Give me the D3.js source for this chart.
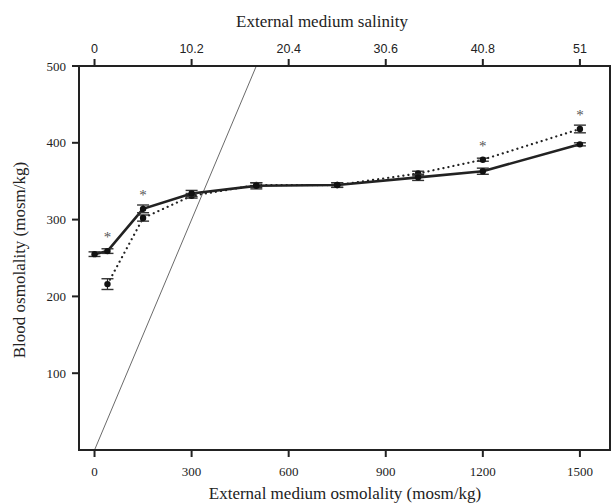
<!DOCTYPE html>
<html lang="en">
<head>
  <meta charset="UTF-8">
  <title>Blood osmolality vs external medium</title>
  <style>
    body { margin: 0; padding: 0; background: #fff; }
  </style>
</head>
<body>
<div id="chart"></div>

<script src="https://d3js.org/d3.v7.min.js"></script>
<script>
  // Data
  const osm = [0, 40, 150, 300, 500, 750, 1000, 1200, 1500];
  const solidMean = [255, 259, 314, 334, 344, 345, 355, 363, 398];
  const solidErr = [3, 3, 5, 4, 4, 3, 4, 4, 2];

  const dottedOsm = [40, 150, 300, 500, 750, 1000, 1200, 1500];
  const dottedMean = [216, 302, 331, 345, 345, 360, 378, 418];
  const dottedErr = [7, 4, 3, 3, 3, 3, 2, 5];

  const starOsm = [40, 150, 1200, 1500];

  const isoLine = [[0, 0], [500, 500]];

  const bottomTicks = [0, 300, 600, 900, 1200, 1500];
  const topTicks = [0, 10.2, 20.4, 30.6, 40.8, 51];
  const leftTicks = [100, 200, 300, 400, 500];

  const SERIF = "'Liberation Serif', 'Times New Roman', Times, serif";
  const SANS = "'Liberation Sans', Arial, Helvetica, sans-serif";
  const ink = "#222";

  const width = 611, height = 503;
  const svg = d3.select("#chart").append("svg")
    .attr("width", width)
    .attr("height", height);

  const x = d3.scaleLinear().domain([-48, 1593]).range([79, 610]);
  const y = d3.scaleLinear().domain([0, 500]).range([450, 66]);
  const xs = d3.scaleLinear().domain([-48 * 51 / 1500, 1593 * 51 / 1500]).range([79, 610]);

  // isosmotic line
  svg.append("line")
    .attr("x1", x(isoLine[0][0])).attr("y1", y(isoLine[0][1]))
    .attr("x2", x(isoLine[1][0])).attr("y2", y(isoLine[1][1]))
    .attr("stroke", "#444").attr("stroke-width", 0.8);

  const solid = osm.map((d, i) => ({ x: d, y: solidMean[i], e: solidErr[i] }));
  const dotted = dottedOsm.map((d, i) => ({ x: d, y: dottedMean[i], e: dottedErr[i] }));

  const line = d3.line().x(d => x(d.x)).y(d => y(d.y));

  svg.append("path").datum(dotted)
    .attr("d", line)
    .attr("fill", "none")
    .attr("stroke", ink)
    .attr("stroke-width", 2.2)
    .attr("stroke-linecap", "round")
    .attr("stroke-dasharray", "0.1 5");

  svg.append("path").datum(solid)
    .attr("d", line)
    .attr("fill", "none")
    .attr("stroke", ink)
    .attr("stroke-width", 2.6);

  function drawSeries(data) {
    const g = svg.append("g");
    data.forEach(d => {
      const cx = x(d.x);
      g.append("line")
        .attr("x1", cx).attr("x2", cx)
        .attr("y1", y(d.y - d.e)).attr("y2", y(d.y + d.e))
        .attr("stroke", ink).attr("stroke-width", 1.2);
      [d.y - d.e, d.y + d.e].forEach(v => {
        g.append("line")
          .attr("x1", cx - 6).attr("x2", cx + 6)
          .attr("y1", y(v)).attr("y2", y(v))
          .attr("stroke", "#333").attr("stroke-width", 1.4);
      });
      g.append("circle")
        .attr("cx", cx).attr("cy", y(d.y))
        .attr("r", 3.2)
        .attr("fill", "#111");
    });
  }
  drawSeries(dotted);
  drawSeries(solid);

  // significance stars above the higher point
  starOsm.forEach(s => {
    const a = solid.find(d => d.x === s);
    const b = dotted.find(d => d.x === s);
    const top = Math.max(a ? a.y : 0, b ? b.y : 0);
    svg.append("text")
      .attr("font-family", SERIF)
      .attr("fill", "#555")
      .attr("x", x(s))
      .attr("y", y(top) - 16 + 7)
      .attr("text-anchor", "middle")
      .attr("font-size", 15)
      .text("*");
  });

  // frame
  svg.append("rect")
    .attr("x", 79).attr("y", 66)
    .attr("width", 531).attr("height", 384)
    .attr("fill", "none")
    .attr("stroke", ink)
    .attr("stroke-width", 2);

  // bottom axis
  const gb = svg.append("g");
  bottomTicks.forEach(t => {
    gb.append("line").attr("x1", x(t)).attr("x2", x(t))
      .attr("y1", 450).attr("y2", 457)
      .attr("stroke", ink).attr("stroke-width", 2);
    gb.append("text").attr("x", x(t)).attr("y", 476)
      .attr("font-family", SERIF).attr("fill", ink)
      .attr("text-anchor", "middle").attr("font-size", 13)
      .text(t);
  });
  gb.append("text").attr("x", 345).attr("y", 499)
    .attr("font-family", SERIF).attr("fill", ink)
    .attr("text-anchor", "middle").attr("font-size", 17)
    .text("External medium osmolality (mosm/kg)");

  // top axis
  const gt = svg.append("g");
  topTicks.forEach(t => {
    gt.append("line").attr("x1", xs(t)).attr("x2", xs(t))
      .attr("y1", 66).attr("y2", 59)
      .attr("stroke", ink).attr("stroke-width", 2);
    gt.append("text").attr("x", xs(t)).attr("y", 53)
      .attr("font-family", SANS).attr("fill", ink)
      .attr("text-anchor", "middle").attr("font-size", 12.5)
      .text(t);
  });
  gt.append("text").attr("x", 322).attr("y", 27)
    .attr("font-family", SERIF).attr("fill", ink)
    .attr("text-anchor", "middle").attr("font-size", 17)
    .text("External medium salinity");

  // left axis
  const gl = svg.append("g");
  leftTicks.forEach(t => {
    gl.append("line").attr("x1", 72).attr("x2", 79)
      .attr("y1", y(t)).attr("y2", y(t))
      .attr("stroke", ink).attr("stroke-width", 2);
    gl.append("text").attr("x", 66).attr("y", y(t) + 4.5)
      .attr("font-family", SERIF).attr("fill", ink)
      .attr("text-anchor", "end").attr("font-size", 13)
      .text(t);
  });
  gl.append("text")
    .attr("transform", "translate(25,260) rotate(-90)")
    .attr("font-family", SERIF).attr("fill", ink)
    .attr("text-anchor", "middle").attr("font-size", 17)
    .text("Blood osmolality (mosm/kg)");
</script>
</body>
</html>
